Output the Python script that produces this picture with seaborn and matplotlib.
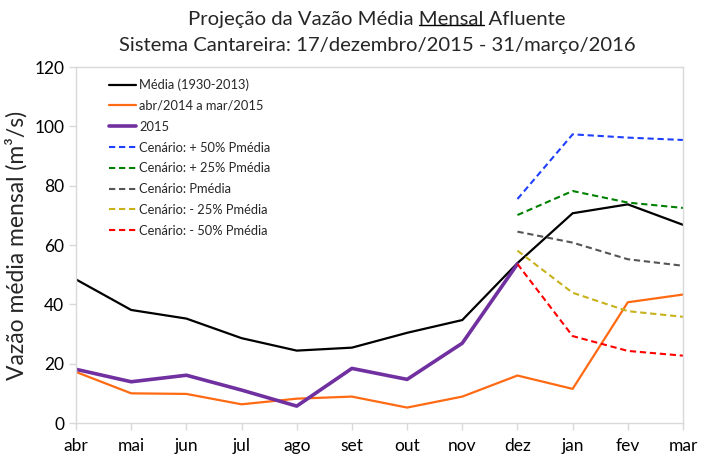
import matplotlib
matplotlib.use("Agg")
import matplotlib.pyplot as plt
import seaborn as sns
import numpy as np
from matplotlib.lines import Line2D

sns.set_theme(style="white")
plt.rcParams['font.family'] = ['Lato', 'DejaVu Sans']

months = ["abr", "mai", "jun", "jul", "ago", "set", "out", "nov", "dez", "jan", "fev", "mar"]
media = [48.4, 38.1, 35.2, 28.6, 24.4, 25.4, 30.4, 34.7, 53.9, 70.7, 73.7, 66.8]
abr14_mar15 = [17.2, 10.0, 9.8, 6.3, 8.2, 8.9, 5.2, 8.9, 16.0, 11.5, 40.7, 43.3]
y2015 = [18.1, 13.9, 16.1, 11.1, 5.7, 18.4, 14.7, 26.9, 53.6]
scen_months = ["dez", "jan", "fev", "mar"]
cen_p50 = [75.5, 97.3, 96.2, 95.4]
cen_p25 = [70.1, 78.2, 74.3, 72.5]
cen_pm = [64.5, 60.8, 55.2, 53.0]
cen_m25 = [58.1, 43.9, 37.7, 35.8]
cen_m50 = [53.6, 29.3, 24.3, 22.7]

labels = ["Média (1930-2013)", "abr/2014 a mar/2015", "2015",
          "Cenário: + 50% Pmédia", "Cenário: + 25% Pmédia", "Cenário: Pmédia",
          "Cenário: - 25% Pmédia", "Cenário: - 50% Pmédia"]

fig = plt.figure(figsize=(7.09, 4.66), dpi=100)
ax = fig.add_axes([76/709, 1-423/466, (683-76)/709, (423-67)/466])

pos = {m: i for i, m in enumerate(months)}
x_all = [pos[m] for m in months]
x_sc = [pos[m] for m in scen_months]

series = [
    (x_all, media, labels[0], "black", 1.6, "-"),
    (x_all, abr14_mar15, labels[1], "#ff6a13", 1.6, "-"),
    (x_all[:len(y2015)], y2015, labels[2], "#7030a0", 2.6, "-"),
    (x_sc, cen_p50, labels[3], "#1f3fff", 1.5, (0, (3, 1.8))),
    (x_sc, cen_p25, labels[4], "#008000", 1.5, (0, (3, 1.8))),
    (x_sc, cen_pm, labels[5], "#555555", 1.5, (0, (3, 1.8))),
    (x_sc, cen_m25, labels[6], "#c8b21c", 1.5, (0, (3, 1.8))),
    (x_sc, cen_m50, labels[7], "#ff0000", 1.5, (0, (3, 1.8))),
]
for xs, ys, lab, col, lw, ls in series:
    sns.lineplot(x=xs, y=ys, ax=ax, color=col, linewidth=lw, linestyle=ls, label=lab)

ax.set_xlim(0, 11)
ax.set_ylim(0, 120)
ax.set_xticks(range(12))
ax.set_xticklabels(months)
ax.set_yticks(range(0, 121, 20))
ax.tick_params(axis='both', labelsize=12.5, colors='#d9d9d9', labelcolor='black',
               length=5, width=1, direction='out', left=True, bottom=True)
ax.tick_params(axis='x', pad=6)
for sp in ax.spines.values():
    sp.set_color('#d9d9d9')
    sp.set_linewidth(1)
ax.set_xlabel("")
ax.set_ylabel("Vazão média mensal (m³/s)", fontsize=16.5, labelpad=5)

handles = [Line2D([0], [0], color=c, lw=lw, ls=ls) for _, _, _, c, lw, ls in series]
leg = ax.legend(handles, labels, loc='upper left', bbox_to_anchor=(0.035, 1.0), frameon=False,
                fontsize=9.3, handlelength=2.1, handletextpad=0.25, labelspacing=0.68)

# Title with underlined "Mensal"
fig.canvas.draw()
renderer = fig.canvas.get_renderer()
fs = 14.6
cx = 377 / 709
y1 = 1 - 19 / 466
line1 = "Projeção da Vazão Média Mensal Afluente"
upto = "Projeção da Vazão Média Mensal"
word = "Mensal"
t1 = fig.text(cx, y1, line1, fontsize=fs, ha='center', va='center')
def wpx(s):
    t = fig.text(0, 0, s, fontsize=fs)
    w = t.get_window_extent(renderer).width
    t.remove()
    return w
bb1 = t1.get_window_extent(renderer)
xl = bb1.x0
x_end = xl + wpx(upto)
x_start = x_end - wpx(word)
uy = (bb1.y0 + 3) / 466
fig.add_artist(Line2D([x_start / 709, x_end / 709], [uy, uy],
                      color='black', lw=1, transform=fig.transFigure))
fig.text(cx, 1 - 45 / 466, "Sistema Cantareira: 17/dezembro/2015 - 31/março/2016",
         fontsize=fs, ha='center', va='center')

fig.savefig("out.png", dpi=100)
